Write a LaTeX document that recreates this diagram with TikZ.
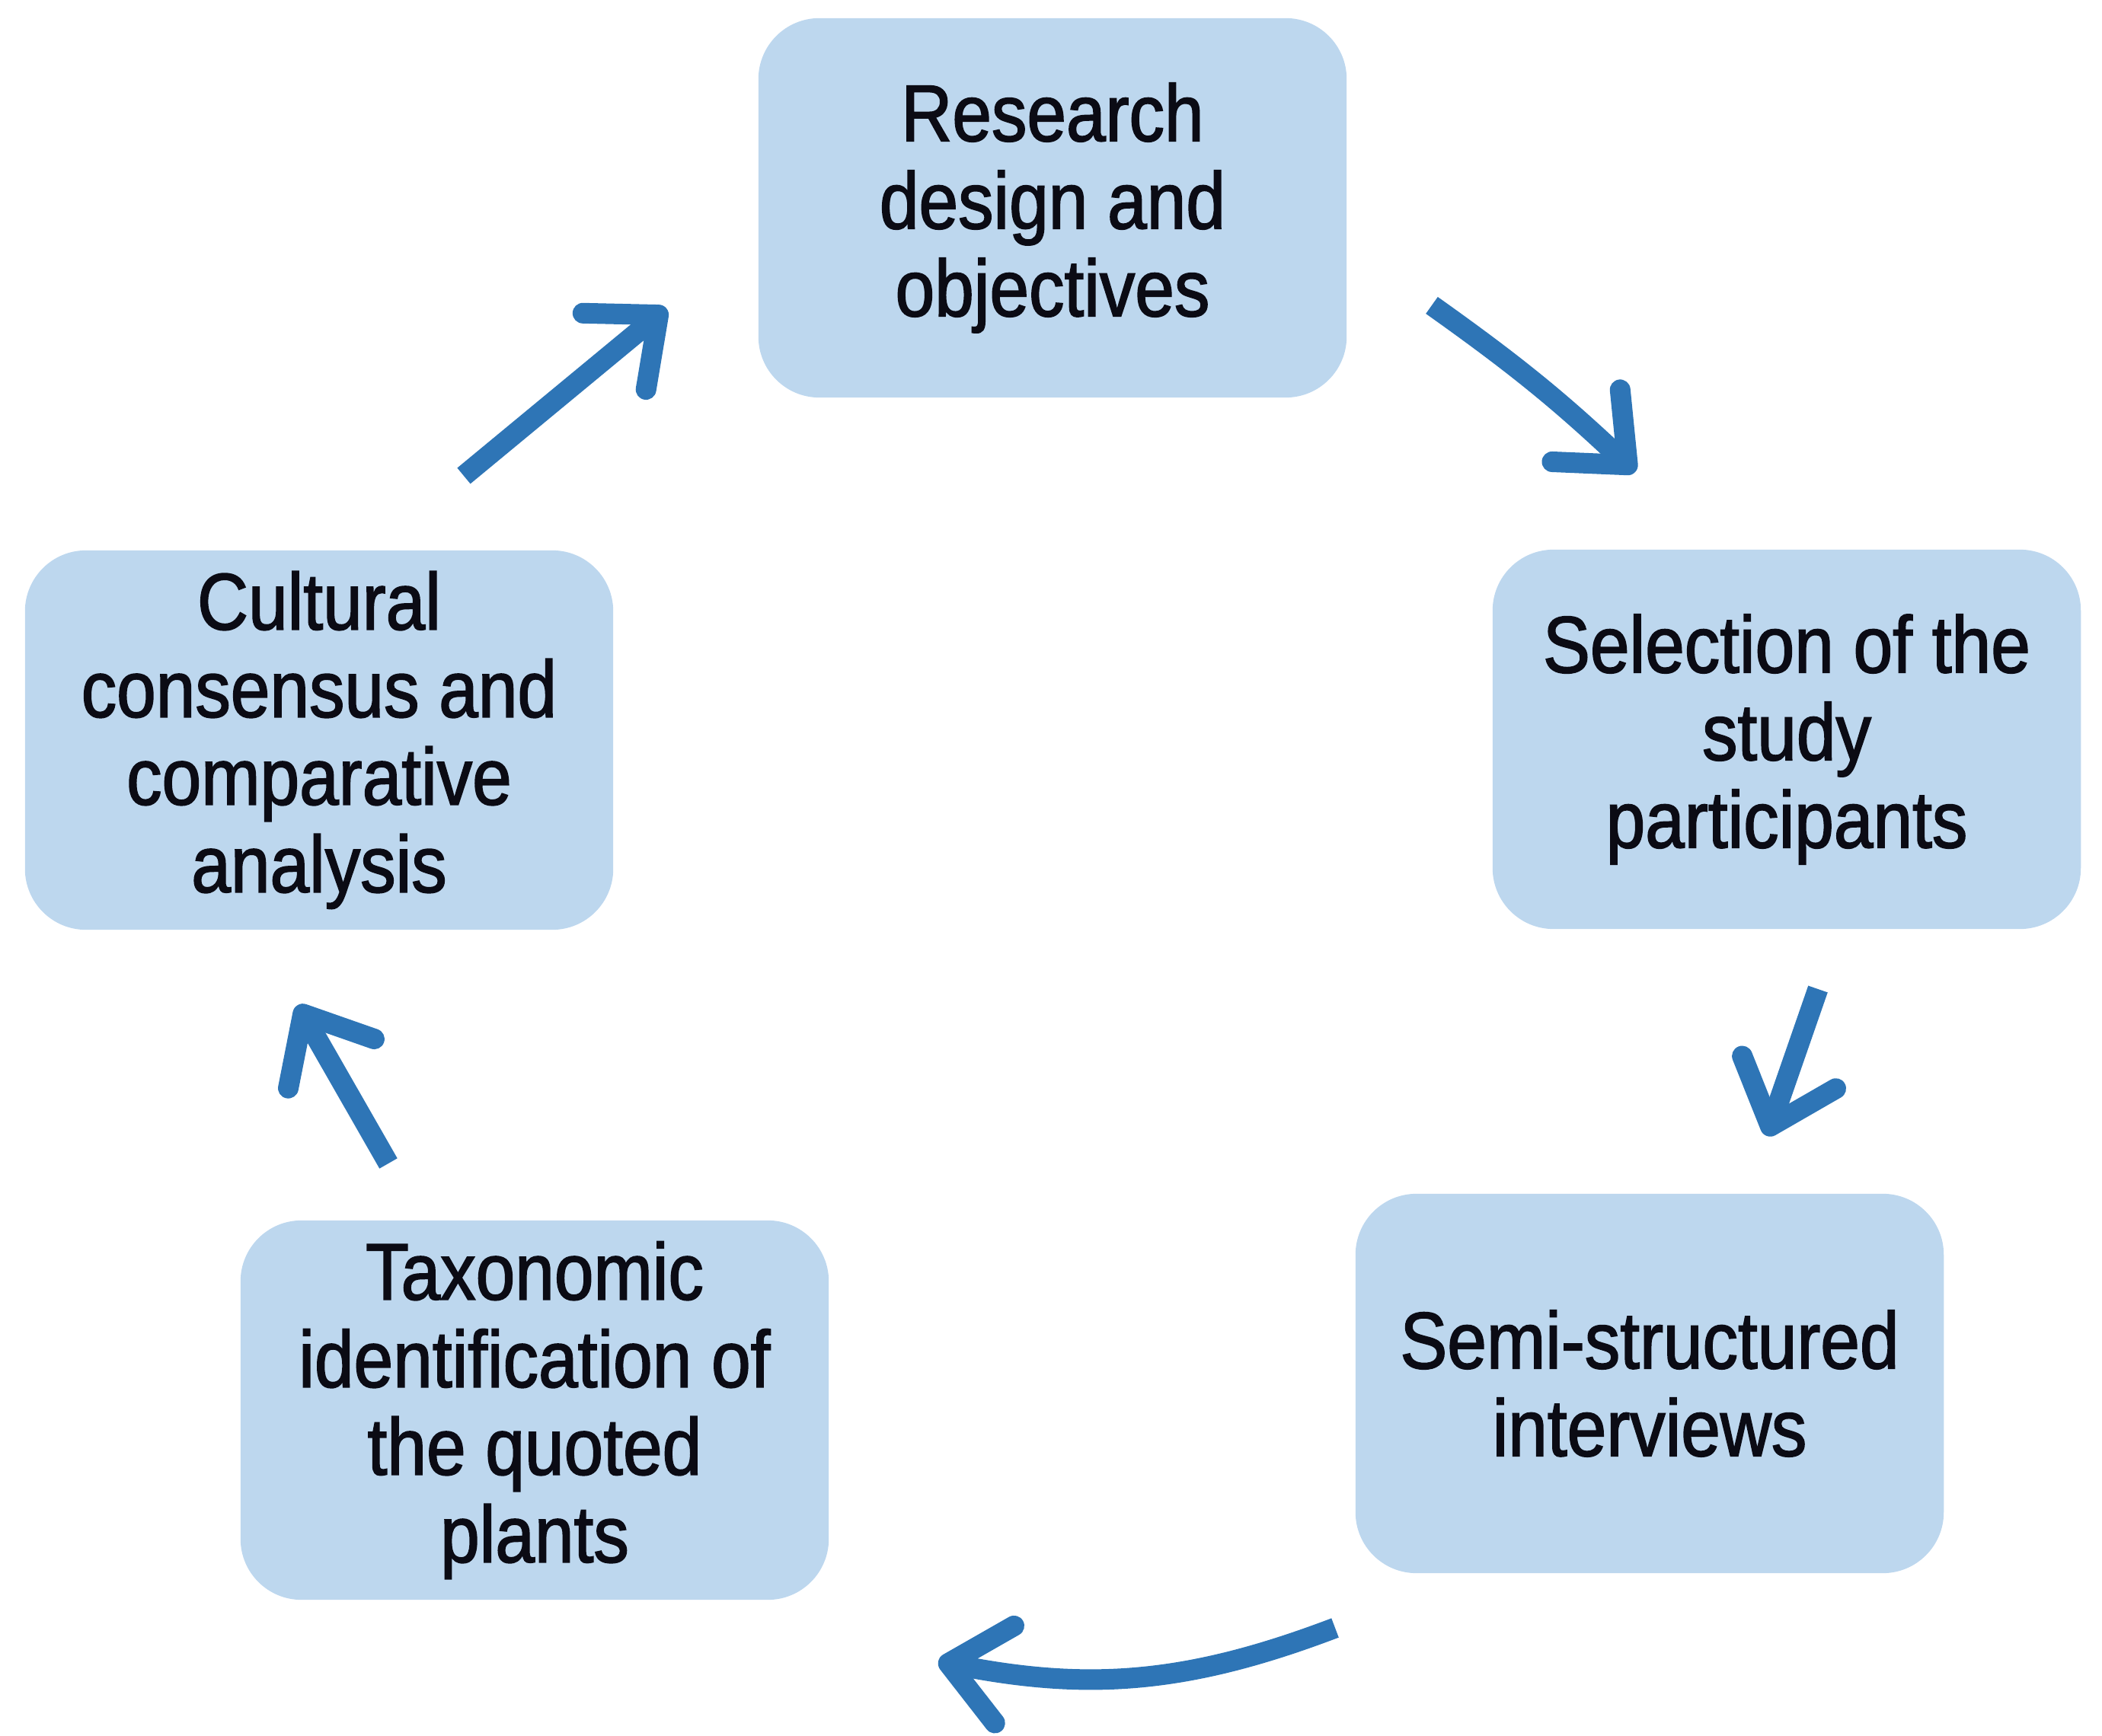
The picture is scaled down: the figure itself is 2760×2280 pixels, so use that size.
\documentclass[tikz,border=0pt]{standalone}
\usepackage{fontspec}
\setmainfont[FakeStretch=0.88, FakeBold=1.6]{Liberation Sans}
\usetikzlibrary{arrows.meta}
\definecolor{boxfill}{HTML}{BDD7EE}
\definecolor{arrowblue}{HTML}{2E75B6}
\definecolor{textdark}{HTML}{0B0B14}
\tikzset{
  stagebox/.style={rectangle, rounded corners=0.8cm, fill=boxfill, draw=none,
    minimum width=7.72cm, minimum height=4.98cm, align=center, text=textdark,
    font=\fontsize{30pt}{32.7pt}\selectfont, inner sep=0pt},
  cyclearrow/.style={draw=arrowblue, line width=0.27cm,
    -{Straight Barb[round, length=0.75cm, width=1.3cm]}}
}
\begin{document}
\begin{tikzpicture}[x=0.01cm, y=-0.01cm]
\useasboundingbox (0,0) rectangle (2760,2280);
\node[stagebox] (design) at (1382,273) {Research\\design and\\objectives};
\node[stagebox] (select) at (2346,971) {Selection of the\\study\\participants};
\node[stagebox] (interv) at (2166,1817) {Semi-structured\\interviews};
\node[stagebox] (taxon) at (702,1852) {Taxonomic\\identification of\\the quoted\\plants};
\node[stagebox] (consen) at (419,972) {Cultural\\consensus and\\comparative\\analysis};
\coordinate (a1s) at (1880,401);
\coordinate (a1e) at (2147,620);
\coordinate (a2s) at (2387,1299);
\coordinate (a2e) at (2320,1492);
\coordinate (a3s) at (1753,2138);
\coordinate (a3e) at (1232,2182);
\coordinate (a4s) at (510,1528);
\coordinate (a4e) at (391,1320);
\coordinate (a5s) at (609,625);
\coordinate (a5e) at (875,405);
\draw[cyclearrow] (a1s) to[bend left=4] (a1e);
\draw[cyclearrow] (a2s) -- (a2e);
\draw[cyclearrow] (a3s) to[bend left=16] (a3e);
\draw[cyclearrow] (a4s) -- (a4e);
\draw[cyclearrow] (a5s) -- (a5e);
\end{tikzpicture}
\end{document}
